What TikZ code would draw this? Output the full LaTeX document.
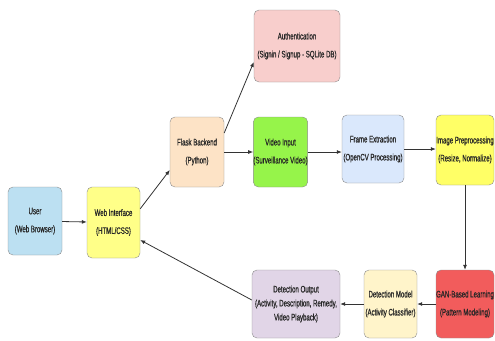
\documentclass[tikz,border=0pt]{standalone}
\usepackage{fontspec}
\setmainfont[FakeStretch=0.64,FakeBold=0.6]{Liberation Sans}
\usetikzlibrary{arrows.meta}

\definecolor{userblue}{HTML}{BCE0F2}
\definecolor{webyellow}{HTML}{FFFF88}
\definecolor{flaskpeach}{HTML}{FDE3C6}
\definecolor{authpink}{HTML}{F8CECC}
\definecolor{videogreen}{HTML}{96F44A}
\definecolor{frameblue}{HTML}{DAE8FC}
\definecolor{imgyellow}{HTML}{FFFF66}
\definecolor{ganred}{HTML}{F25C5C}
\definecolor{modelcream}{HTML}{FFF4CA}
\definecolor{outlilac}{HTML}{E1D5E7}

\begin{document}
\begin{tikzpicture}
        [x=1pt,y=-1pt,
         stage/.style={draw=black!45,rounded corners=5pt,align=center,
           inner sep=0pt,text=black!85,font=\fontsize{9.5}{18}\selectfont},
         link/.style={-{Latex[length=5pt,width=4pt]},draw=black!80,thick}]
        \useasboundingbox (0,0) rectangle (495,340);

        \node[stage,fill=userblue,minimum width=54pt,minimum height=68pt]
          (user) at (35,221) {User\\(Web Browser)};
        \node[stage,fill=webyellow,minimum width=53pt,minimum height=71pt]
          (web) at (113.5,222.5) {Web Interface\\(HTML/CSS)};
        \node[stage,fill=flaskpeach,minimum width=54pt,minimum height=70pt]
          (flask) at (197,152) {Flask Backend\\(Python)};
        \node[stage,fill=authpink,minimum width=86pt,minimum height=72pt]
          (auth) at (297,46) {Authentication\\(Signin / Signup - SQLite DB)};
        \node[stage,fill=videogreen,minimum width=53pt,minimum height=70pt]
          (video) at (280.5,152) {Video Input\\(Surveillance Video)};
        \node[stage,fill=frameblue,minimum width=62pt,minimum height=68pt]
          (frame) at (373,149) {Frame Extraction\\(OpenCV Processing)};
        \node[stage,fill=imgyellow,minimum width=58pt,minimum height=70pt]
          (image) at (465,150) {Image Preprocessing\\(Resize, Normalize)};
        \node[stage,fill=ganred,minimum width=58pt,minimum height=68pt]
          (gan) at (465,304) {GAN-Based Learning\\(Pattern Modeling)};
        \node[stage,fill=modelcream,minimum width=53pt,minimum height=68pt]
          (model) at (390.5,304) {Detection Model\\(Activity Classifier)};
        \node[stage,fill=outlilac,minimum width=88pt,minimum height=68pt,
          font=\fontsize{9.5}{14}\selectfont]
          (out) at (296,304) {Detection Output\\(Activity, Description, Remedy,\\Video Playback)};

        \draw[link] (user) -- (web);
        \draw[link] (web.north east) ++(0,22) -- (flask.south west |- 0,170);
        \draw[link] (flask.east) ++(0,-19) -- (auth.west |- 0,62);
        \draw[link] (flask) -- (video);
        \draw[link] (video) -- (frame.west |- video);
        \draw[link] (frame) -- (image.west |- frame);
        \draw[link] (image) -- (gan);
        \draw[link] (gan) -- (model);
        \draw[link] (model) -- (out);
        \draw[link] (out.west) ++(0,-4) -- (web.east |- 0,240);
      \end{tikzpicture}
\end{document}
